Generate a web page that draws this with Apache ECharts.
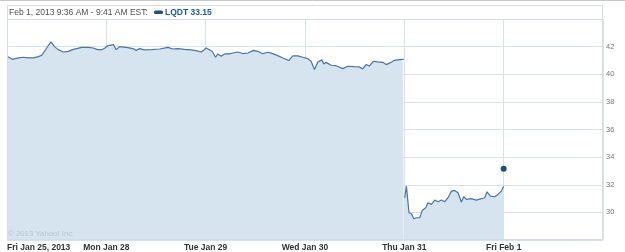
<!DOCTYPE html>
<html>
<head>
<meta charset="utf-8">
<script src="https://cdn.jsdelivr.net/npm/echarts@6/dist/echarts.min.js"></script>
<style>
html,body{margin:0;padding:0;background:#fff;}
#chart{width:625px;height:252px;}
</style>
</head>
<body>
<div id="chart"></div>
<script>
// Trading-day position (0 = Fri Jan 25 open, 1 = Mon Jan 28 open, ...)
var dayLabels = ["Fri Jan 25, 2013", "Mon Jan 28", "Tue Jan 29", "Wed Jan 30", "Thu Jan 31", "Fri Feb 1", ""];
var yTicks = [30, 32, 34, 36, 38, 40, 42];

var sessionA_days = [0, 0.020, 0.053, 0.114, 0.164, 0.214, 0.265, 0.315, 0.349, 0.399, 0.443, 0.476, 0.516, 0.566, 0.617, 0.667, 0.701, 0.752, 0.818, 0.868, 0.912, 0.953, 0.986,
  1.016, 1.073, 1.099, 1.134, 1.200, 1.268, 1.301, 1.335, 1.385, 1.452, 1.536, 1.620, 1.670, 1.720, 1.788, 1.854, 1.904, 1.955, 1.982,
  2.005, 2.022, 2.065, 2.100, 2.123, 2.156, 2.190, 2.240, 2.274, 2.324, 2.374, 2.425, 2.482, 2.525, 2.575, 2.626, 2.676, 2.726, 2.777, 2.837, 2.877, 2.928, 2.978,
  3.028, 3.061, 3.096, 3.129, 3.169, 3.189, 3.212, 3.263, 3.313, 3.380, 3.431, 3.498, 3.548, 3.581, 3.615, 3.649, 3.689, 3.732, 3.783, 3.816, 3.856, 3.900, 3.951, 3.984, 3.994];
var sessionA_prices = [41.30, 41.37, 41.08, 41.18, 41.23, 41.18, 41.18, 41.28, 41.37, 41.90, 42.34, 42.02, 41.78, 41.61, 41.66, 41.80, 41.86, 41.95, 41.95, 41.90, 41.78, 41.78, 41.90,
  42.07, 42.14, 41.78, 42.00, 41.95, 41.86, 41.73, 41.86, 41.76, 41.78, 41.83, 41.95, 41.83, 41.86, 41.80, 41.76, 41.71, 41.61, 41.76,
  41.90, 41.78, 41.66, 41.23, 41.47, 41.30, 41.47, 41.47, 41.54, 41.61, 41.50, 41.54, 41.73, 41.66, 41.49, 41.59, 41.49, 41.35, 41.18, 40.99, 41.33, 41.33, 41.23,
  41.13, 40.94, 40.34, 40.89, 41.04, 40.75, 40.86, 40.65, 40.62, 40.41, 40.58, 40.55, 40.53, 40.39, 40.70, 40.60, 40.94, 40.89, 40.86, 40.70, 40.82, 41.01, 41.06, 41.08, 41.08];

var sessionB_days = [4.004, 4.021, 4.047, 4.071, 4.095, 4.122, 4.155, 4.182, 4.215, 4.238, 4.272, 4.306, 4.339, 4.373, 4.406, 4.440, 4.474, 4.507, 4.540, 4.574, 4.598, 4.625, 4.675, 4.726, 4.776, 4.809, 4.832, 4.867, 4.909, 4.943, 4.977, 5.000];
var sessionB_prices = [31.06, 31.90, 29.97, 29.90, 29.54, 29.61, 29.61, 30.16, 30.33, 30.70, 30.58, 30.89, 30.77, 30.89, 30.77, 31.06, 31.54, 31.59, 31.42, 30.75, 31.13, 30.94, 30.99, 30.89, 30.99, 31.06, 31.49, 31.18, 31.13, 31.30, 31.54, 31.90];

var lastDay = 5.0;
var lastPrice = 33.15;

function pairs(xs, ys) { return xs.map(function (x, i) { return [x, ys[i]]; }); }

var LINE = '#4a74a3';
var FILL = '#d6e4ef';
var GRID = '#d7e1ea';
var FONT = "'Liberation Sans', Arial, sans-serif";

var chart = echarts.init(document.getElementById('chart'), null, { renderer: 'canvas' });
chart.setOption({
  animation: false,
  backgroundColor: '#fff',
  grid: { left: 7, right: 22, top: 19, bottom: 12, containLabel: false, show: false },
  xAxis: {
    type: 'value', min: 0, max: 6, interval: 1,
    axisLine: { show: false }, axisTick: { show: false },
    splitLine: { show: true, lineStyle: { color: GRID, width: 1 } },
    axisLabel: {
      show: true, margin: 3, color: '#333', fontSize: 8.5, fontWeight: 'bold', fontFamily: FONT,
      showMaxLabel: false, alignMinLabel: 'left',
      formatter: function (v) { return dayLabels[Math.round(v)] || ''; }
    }
  },
  yAxis: {
    type: 'value', position: 'right', min: 28, max: 44, interval: 2,
    axisLine: { show: false },
    axisTick: { show: true, length: 3, lineStyle: { color: GRID } },
    splitLine: { show: true, lineStyle: { color: GRID, width: 1 } },
    axisLabel: {
      margin: 3, color: '#777', fontSize: 7.5, fontFamily: FONT,
      formatter: function (v) { return yTicks.indexOf(v) >= 0 ? String(v) : ''; }
    }
  },
  series: [
    { type: 'line', data: pairs(sessionA_days, sessionA_prices), showSymbol: false, symbol: 'none',
      lineStyle: { color: LINE, width: 1.2 }, areaStyle: { color: FILL, opacity: 1 }, z: 2 },
    { type: 'line', data: pairs(sessionB_days, sessionB_prices), showSymbol: false, symbol: 'none',
      lineStyle: { color: LINE, width: 1.2 }, areaStyle: { color: FILL, opacity: 1 }, z: 2 },
    { type: 'scatter', data: [[lastDay, lastPrice]], symbol: 'circle', symbolSize: 6,
      itemStyle: { color: '#1b4a85', opacity: 1 }, z: 5 }
  ],
  graphic: [
    { type: 'line', shape: { x1: 0, y1: 0.5, x2: 625, y2: 0.5 }, style: { stroke: '#c8c8c8', lineWidth: 1 }, z: 10 },
    { type: 'rect', shape: { x: 7.5, y: 5.5, width: 595, height: 234 }, style: { fill: 'none', stroke: '#d3dbe3', lineWidth: 1 }, z: 10 },
    { type: 'line', shape: { x1: 7, y1: 19.5, x2: 603, y2: 19.5 }, style: { stroke: '#d3dbe3', lineWidth: 1 }, z: 10 },
    { type: 'text', left: 9, top: 8, style: { text: 'Feb 1, 2013 9:36 AM - 9:41 AM EST:', fill: '#4d4d4d', font: '8.5px ' + FONT }, z: 10 },
    { type: 'rect', shape: { x: 154, y: 10.5, width: 9, height: 3.5, r: 1.5 }, style: { fill: '#1e4f8b' }, z: 10 },
    { type: 'text', left: 165, top: 8, style: { text: 'LQDT 33.15', fill: '#1e5a9b', font: 'bold 8.5px ' + FONT }, z: 10 },
    { type: 'text', left: 8, top: 230, style: { text: '© 2013 Yahoo! Inc.', fill: '#b3c6d6', font: '7.8px ' + FONT }, z: 10 }
  ]
});
</script>
</body>
</html>
